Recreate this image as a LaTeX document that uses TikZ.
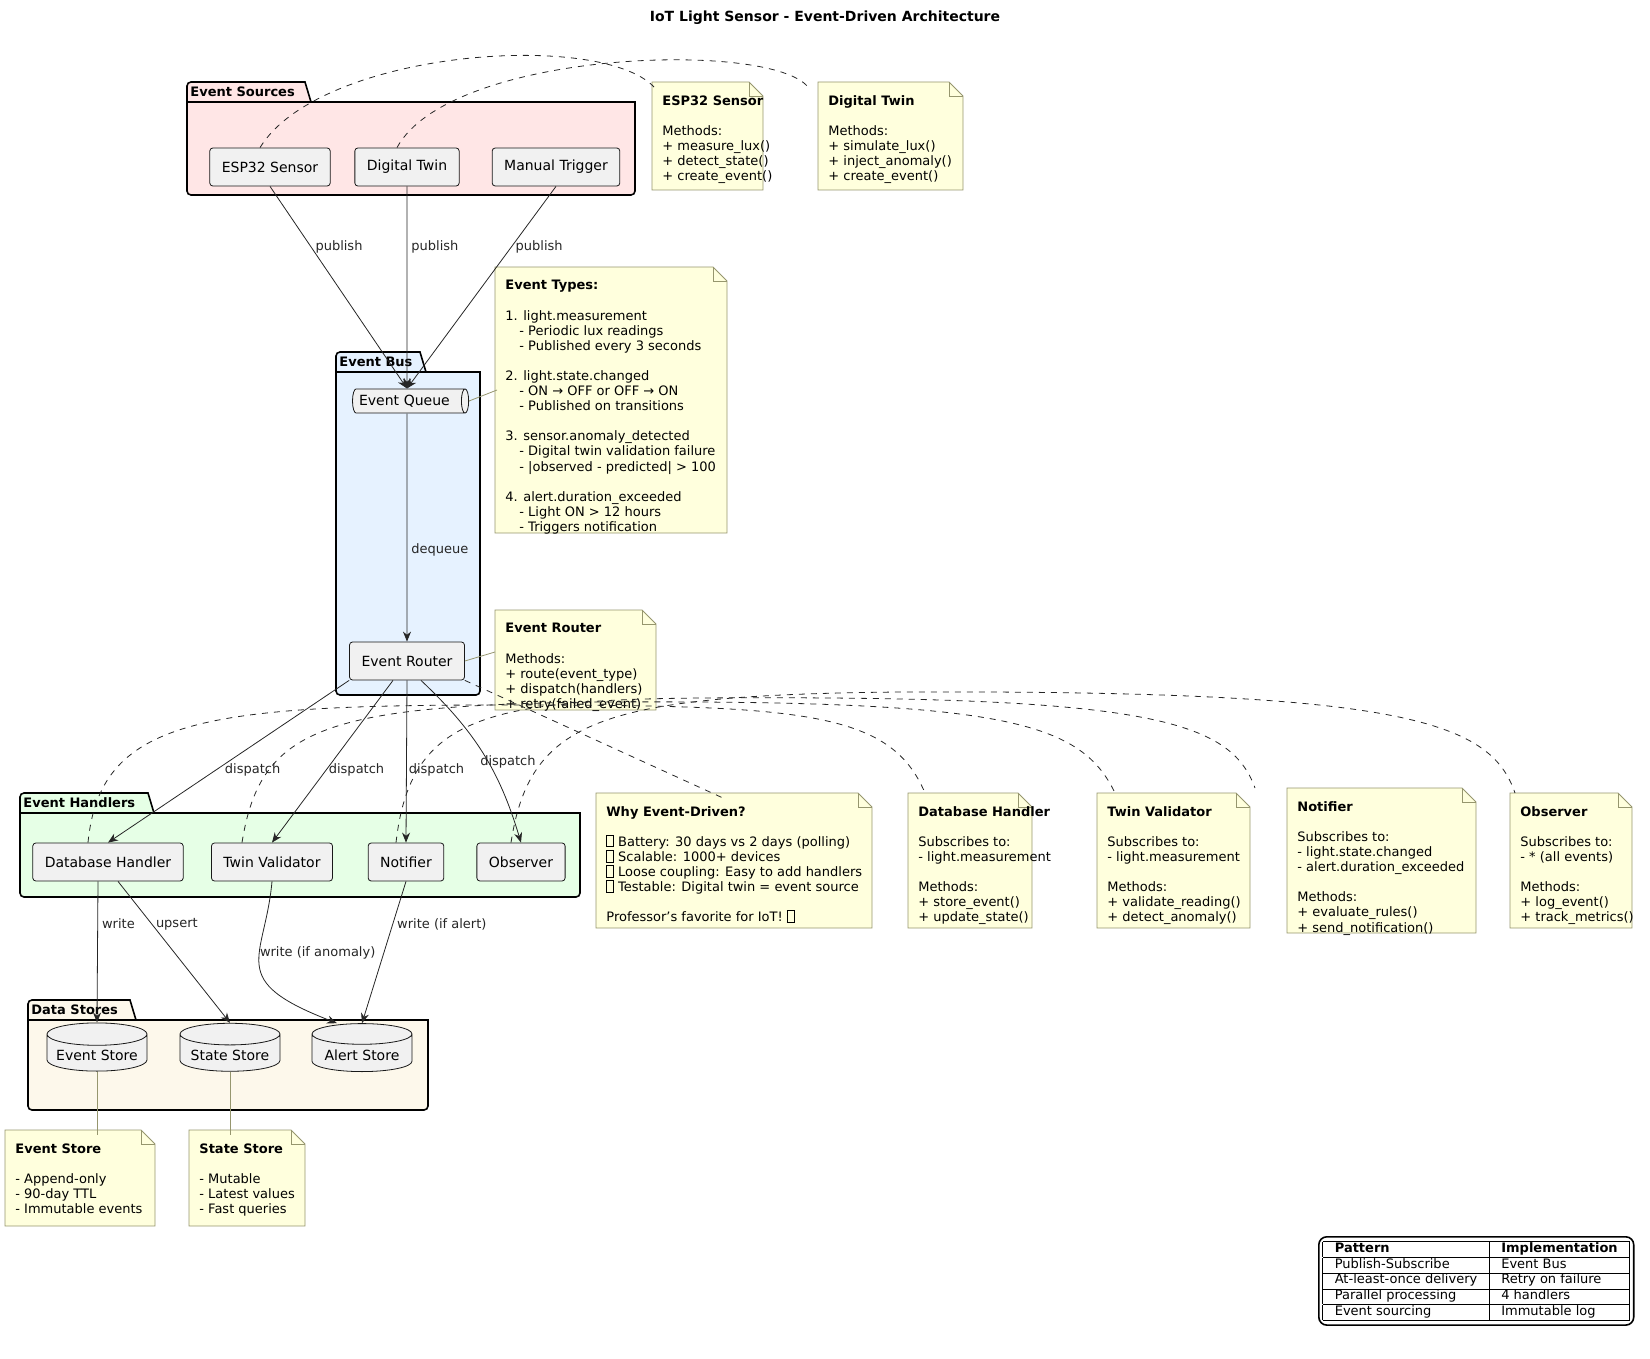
\documentclass[tikz,border=0pt]{standalone}
\usepackage{fontspec}
\setmainfont{DejaVu Sans}
\usetikzlibrary{positioning,arrows.meta,calc,shapes.geometric}
\definecolor{notefill}{RGB}{255,255,221}
\definecolor{noteline}{RGB}{150,150,110}
\definecolor{boxfill}{RGB}{241,241,241}
\definecolor{srcfill}{RGB}{255,230,230}
\definecolor{busfill}{RGB}{230,242,255}
\definecolor{hdlfill}{RGB}{230,255,230}
\definecolor{storefill}{RGB}{253,248,235}
\newcommand{\blank}{\mbox{}}
\newcommand{\tofu}{{\fboxsep=0pt\fboxrule=0.4pt\fbox{\rule{0pt}{5.5pt}\hspace{3pt}}}}
\newcommand{\ind}{\hspace*{7pt}}
\newcommand{\smallfont}{\fontsize{6.5}{7.55}\selectfont}
% package: name, x1, y1, tab end, x2, y2, fill, title
\newcommand{\pkg}[8]{%
  \draw[thick,fill=#7] (#2,#3) -- (#4,#3) -- (#4+6,#3+20) -- (#5,#3+20) [rounded corners=2pt] -- (#5,#6) -- (#2,#6) -- cycle;
  \draw[thick] (#2,#3+20) -- (#4+6,#3+20);
  \node[font=\smallfont\bfseries,anchor=west,inner sep=0pt] (#1) at (#2+3,#3+10) {#8};}
% note: name, x1, y1, x2, y2, text
\newcommand{\note}[6]{%
  \draw[noteline,fill=notefill] (#2,#3) -- (#4-14,#3) -- (#4,#3+14) -- (#4,#5) -- (#2,#5) -- cycle;
  \draw[noteline] (#4-14,#3) -- (#4-14,#3+14) -- (#4,#3+14);
  \coordinate (#1) at ($(#2,#3)!0.5!(#4,#5)$);
  \node[notetext,anchor=north west] (#1-t) at (#2+2,#3+5) {#6};}
\begin{document}
\begin{tikzpicture}[x=0.5pt,y=-0.5pt,font=\smallfont,
  comp/.style={draw=black!90,fill=boxfill,rounded corners=1.5pt,minimum height=19pt,inner xsep=6pt,font=\fontsize{7}{8.4}\selectfont},
  store/.style={cylinder,shape border rotate=90,aspect=0.25,draw=black!90,fill=boxfill,minimum height=24pt,minimum width=50pt,inner sep=2pt,font=\fontsize{7}{8.4}\selectfont},
  notetext/.style={align=left,inner sep=4pt},
  flow/.style={-{Stealth[length=5pt,width=4pt]},black!85},
  lbl/.style={inner sep=2pt,fill=none},
  link/.style={dashed,black!85},
  tie/.style={noteline}]
\useasboundingbox (0,0) rectangle (1650,1359);
\node[font=\fontsize{7}{8.4}\selectfont\bfseries] (title) at (825,18) {IoT Light Sensor - Event-Driven Architecture};

% packages
\pkg{srcT}{187}{82}{305}{635}{195}{srcfill}{Event Sources}
\pkg{busT}{336}{352}{420}{480}{695}{busfill}{Event Bus}
\pkg{hdlT}{20}{793}{148}{580}{897}{hdlfill}{Event Handlers}
\pkg{stoT}{28}{1000}{130}{428}{1110}{storefill}{Data Stores}

% components
\node[comp] (esp) at (270,167) {ESP32 Sensor};
\node[comp] (twin) at (407,167) {Digital Twin};
\node[comp] (manual) at (556,167) {Manual Trigger};
\node[cylinder,draw=black!90,fill=boxfill,aspect=0.3,inner sep=3pt,minimum height=11pt,text width=48pt,align=left,font=\fontsize{7}{8.4}\selectfont] (queue) at (407,401) {Event Queue};
\node[comp] (router) at (407,661) {Event Router};
\node[comp] (dbh) at (108,862) {Database Handler};
\node[comp] (tval) at (272,862) {Twin Validator};
\node[comp] (notif) at (406,862) {Notifier};
\node[comp] (obs) at (521,862) {Observer};
\node[store] (evs) at (97,1055) {\\[6pt]Event Store};
\node[store] (sts) at (230,1055) {\\[6pt]State Store};
\node[store] (als) at (362,1055) {\\[6pt]Alert Store};

% notes
\note{nEsp}{652}{82}{763}{190}{\textbf{ESP32 Sensor}\\ \blank\\ Methods:\\ + measure\_lux()\\ + detect\_state()\\ + create\_event()}
\note{nTwin}{818}{82}{963}{190}{\textbf{Digital Twin}\\ \blank\\ Methods:\\ + simulate\_lux()\\ + inject\_anomaly()\\ + create\_event()}
\note{nTypes}{495}{267}{727}{533}{\textbf{Event Types:}\\ \blank\\ 1. light.measurement\\ \ind - Periodic lux readings\\ \ind - Published every 3 seconds\\ \blank\\ 2. light.state.changed\\ \ind - ON → OFF or OFF → ON\\ \ind - Published on transitions\\ \blank\\ 3. sensor.anomaly\_detected\\ \ind - Digital twin validation failure\\ \ind - |observed - predicted| > 100\\ \blank\\ 4. alert.duration\_exceeded\\ \ind - Light ON > 12 hours\\ \ind - Triggers notification}
\note{nRouter}{495}{610}{656}{710}{\textbf{Event Router}\\ \blank\\ Methods:\\ + route(event\_type)\\ + dispatch(handlers)\\ + retry(failed\_event)}
\note{nWhy}{596}{793}{872}{928}{\textbf{Why Event-Driven?}\\ \blank\\ \tofu\ Battery: 30 days vs 2 days (polling)\\ \tofu\ Scalable: 1000+ devices\\ \tofu\ Loose coupling: Easy to add handlers\\ \tofu\ Testable: Digital twin = event source\\ \blank\\ Professor's favorite for IoT! \tofu}
\note{nDb}{908}{793}{1032}{928}{\textbf{Database Handler}\\ \blank\\ Subscribes to:\\ - light.measurement\\ \blank\\ Methods:\\ + store\_event()\\ + update\_state()}
\note{nTv}{1097}{793}{1250}{928}{\textbf{Twin Validator}\\ \blank\\ Subscribes to:\\ - light.measurement\\ \blank\\ Methods:\\ + validate\_reading()\\ + detect\_anomaly()}
\note{nNot}{1287}{788}{1476}{933}{\textbf{Notifier}\\ \blank\\ Subscribes to:\\ - light.state.changed\\ - alert.duration\_exceeded\\ \blank\\ Methods:\\ + evaluate\_rules()\\ + send\_notification()}
\note{nObs}{1510}{793}{1632}{928}{\textbf{Observer}\\ \blank\\ Subscribes to:\\ - * (all events)\\ \blank\\ Methods:\\ + log\_event()\\ + track\_metrics()}
\note{nEvs}{5}{1130}{155}{1226}{\textbf{Event Store}\\ \blank\\ - Append-only\\ - 90-day TTL\\ - Immutable events}
\note{nSts}{189}{1130}{305}{1226}{\textbf{State Store}\\ \blank\\ - Mutable\\ - Latest values\\ - Fast queries}

% flows
\draw[flow] (esp.south) -- node[lbl,pos=0.3,right] {publish} (queue.north);
\draw[flow] (twin.south) -- node[lbl,pos=0.3,right] {publish} (queue.north);
\draw[flow] (manual.south) -- node[lbl,pos=0.3,right] {publish} (queue.north);
\draw[flow] (queue.south) -- node[lbl,pos=0.6,right] {dequeue} (router.north);
\draw[flow] (router.south west) -- node[lbl,pos=0.55,right=2pt] {dispatch} (dbh.north);
\draw[flow] ($(router.south)+(-14,0)$) -- node[lbl,pos=0.55,right=-1pt] {dispatch} (tval.north);
\draw[flow] (router.south) -- node[lbl,pos=0.55,right=-1pt] {dispatch} (notif.north);
\draw[flow] ($(router.south)+(14,0)$) to[bend left=15] node[lbl,pos=0.55,right=-6pt] {dispatch} (obs.north);
\draw[flow] ($(dbh.south)+(-10,0)$) -- node[lbl,pos=0.3,right] {write} (evs.north);
\draw[flow] ($(dbh.south)+(10,0)$) -- node[lbl,pos=0.3,right] {upsert} (sts.north);
\draw[flow] (tval.south) .. controls (265,960) and (225,980) .. node[lbl,pos=0.4,right=-2pt] {write (if anomaly)} ($(als.north)+(-25,0)$);
\draw[flow] (notif.south) -- node[lbl,pos=0.3,right] {write (if alert)} (als.north);

% note links
\draw[link] ($(esp.north)+(-10,0)$) .. controls (320,50) and (600,30) .. (nEsp-t.north west);
\draw[link] ($(twin.north)+(-10,0)$) .. controls (450,50) and (770,40) .. ($(nTwin-t.north west)+(-12,0)$);
\draw[tie] (queue.east) -- (nTypes-t.west |- 0,390);
\draw[tie] (router.east) -- (495,652);
\draw[link] (router.south east) -- ($(nWhy-t.north west)+(125,0)$);
\draw[link] ($(dbh.north)+(-20,0)$) .. controls (100,720) and (200,705) .. (500,705) .. controls (800,705) and (890,710) .. (925,793);
\draw[link] ($(tval.north)+(-30,0)$) .. controls (260,730) and (320,705) .. (600,702) .. controls (1000,700) and (1080,720) .. (1115,793);
\draw[link] ($(notif.north)+(-10,0)$) .. controls (410,720) and (480,700) .. (700,698) .. controls (1150,695) and (1230,720) .. (1255,788);
\draw[link] ($(obs.north)+(-10,0)$) .. controls (530,720) and (600,695) .. (900,692) .. controls (1400,690) and (1490,720) .. (1515,793);
\draw[tie] (evs.south) -- (nEvs-t.north -| evs.south);
\draw[tie] (sts.south) -- (nSts-t.north -| sts.south);

% summary table
\node[draw,rounded corners=4pt,thick,inner sep=2pt,anchor=north west] (summary) at (1318,1236) {%
  \begin{tabular}{|l|l|}\hline
  \textbf{Pattern} & \textbf{Implementation}\\\hline
  Publish-Subscribe & Event Bus\\\hline
  At-least-once delivery & Retry on failure\\\hline
  Parallel processing & 4 handlers\\\hline
  Event sourcing & Immutable log\\\hline
  \end{tabular}};
\end{tikzpicture}
\end{document}
